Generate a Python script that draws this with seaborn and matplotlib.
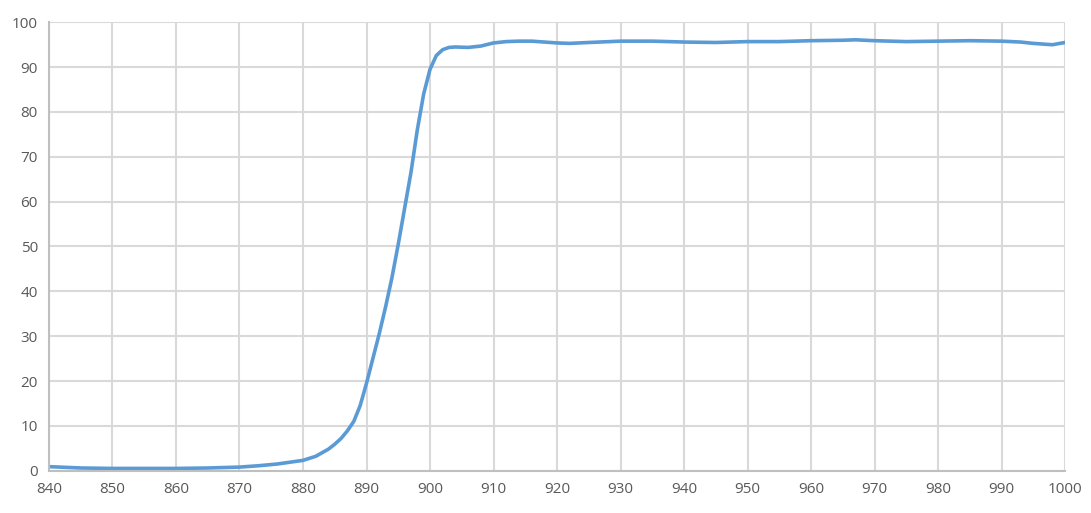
import numpy as np
import pandas as pd
import seaborn as sns
import matplotlib
matplotlib.use("Agg")
import matplotlib.pyplot as plt

# wavelength (nm) and transmission (%)
wavelength = [840, 845, 850, 855, 860, 865, 870, 873, 876, 878, 880, 882, 884, 885, 886,
              887, 888, 889, 890, 891, 892, 893, 894, 895, 896, 897, 898, 899, 900,
              901, 902, 903, 904, 906, 908, 910, 912, 914, 916, 918, 920, 922, 925,
              930, 935, 940, 945, 950, 955, 960, 965, 967, 970, 975, 980, 985, 990,
              993, 995, 998, 1000]
transmission = [0.9, 0.6, 0.5, 0.5, 0.5, 0.6, 0.8, 1.1, 1.5, 1.9, 2.3, 3.2, 4.8, 5.9, 7.2,
                8.9, 11.0, 14.5, 19.5, 25.0, 30.5, 36.5, 43.0, 50.5, 58.5, 66.5, 76.0, 84.0, 89.5,
                92.6, 93.9, 94.4, 94.5, 94.4, 94.7, 95.4, 95.7, 95.8, 95.8, 95.6, 95.4, 95.3, 95.5,
                95.8, 95.8, 95.6, 95.5, 95.7, 95.7, 95.9, 96.0, 96.1, 95.9, 95.7, 95.8, 95.9, 95.8,
                95.6, 95.3, 95.0, 95.5]

xticks = list(range(840, 1001, 10))
yticks = list(range(0, 101, 10))

df = pd.DataFrame({"wavelength": wavelength, "transmission": transmission})

sns.set_style("white")
plt.rcParams["font.family"] = ["Open Sans", "DejaVu Sans"]

fig = plt.figure(figsize=(10.91, 5.13), dpi=100)
ax = fig.add_axes([0.0449, 0.0825, 0.9313, 0.874])

sns.lineplot(data=df, x="wavelength", y="transmission", ax=ax,
             color="#5b9bd5", linewidth=2.6)

ax.set_xlim(840, 1000)
ax.set_ylim(0, 100)
ax.set_xticks(xticks)
ax.set_yticks(yticks)
ax.grid(True, color="#d9d9d9", linewidth=1.5)
ax.set_axisbelow(True)
ax.set_xlabel("")
ax.set_ylabel("")
for side in ["top", "right"]:
    ax.spines[side].set_visible(False)
for side in ["left", "bottom"]:
    ax.spines[side].set_color("#bfbfbf")
    ax.spines[side].set_linewidth(1.5)
ax.tick_params(axis="both", length=0, labelsize=11, colors="#595959", pad=8)

fig.savefig("out.png", dpi=100)
